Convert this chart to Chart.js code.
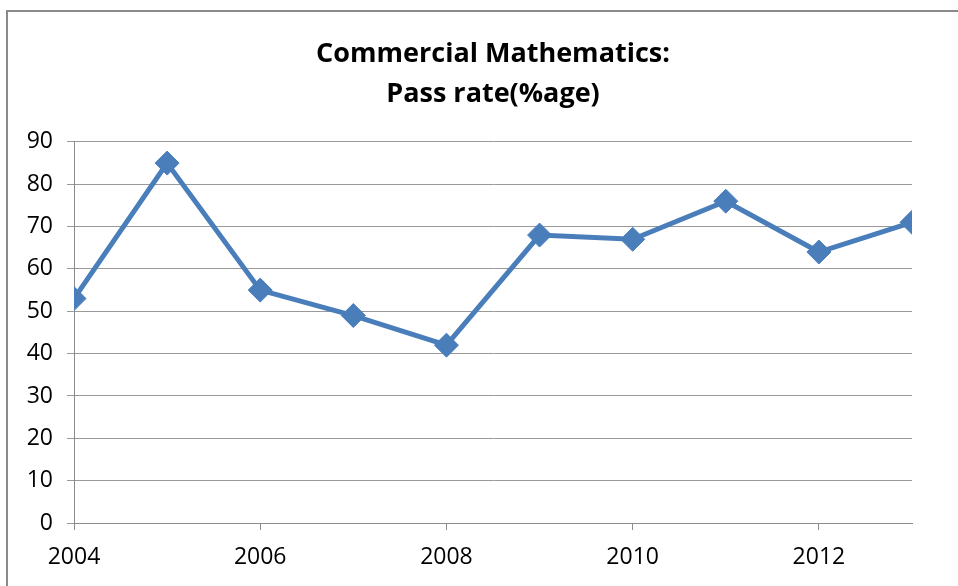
<!DOCTYPE html>
<html>
<head>
<meta charset="utf-8">
<script src="https://cdn.jsdelivr.net/npm/chart.js@4"></script>
<style>
  html, body { margin: 0; padding: 0; background: #fff; }
  #wrap { position: relative; width: 958px; height: 586px; overflow: hidden; }
  #frame { position: absolute; left: 6px; top: 10px; width: 1000px; height: 700px; border: 2px solid #8a8a8a; box-sizing: border-box; }
  canvas { position: absolute; left: 0; top: 0; }
</style>
</head>
<body>
<div id="wrap">
  <div id="frame"></div>
  <canvas id="chart" width="958" height="586"></canvas>
</div>
<script>
// Pass rate per year
const years = [2004, 2005, 2006, 2007, 2008, 2009, 2010, 2011, 2012, 2013];
const passRate = [53, 85, 55, 49, 42, 68, 67, 76, 64, 71];
const titleLines = ['Commercial Mathematics:', 'Pass rate(%age)'];

const FONT = '"Open Sans", Lato, sans-serif';
const blue = '#4a7ebb';

new Chart(document.getElementById('chart'), {
  type: 'line',
  data: {
    datasets: [{
      data: years.map((y, i) => ({ x: y, y: passRate[i] })),
      borderColor: blue,
      backgroundColor: blue,
      borderWidth: 5,
      pointStyle: 'rectRot',
      pointRadius: 12,
      pointBorderWidth: 1,
      pointBorderColor: blue,
      tension: 0
    }]
  },
  options: {
    responsive: false,
    animation: false,
    layout: { padding: { left: 0, right: 46, top: 0, bottom: 0 } },
    plugins: {
      legend: { display: false },
      tooltip: { enabled: false },
      title: {
        display: true,
        fullSize: false, // centre over the plot area
        text: titleLines,
        color: '#000',
        font: { family: FONT, size: 27, weight: 'bold', lineHeight: 1.48 },
        padding: { top: 34, bottom: 28 }
      }
    },
    scales: {
      x: {
        type: 'linear',
        min: 2004,
        max: 2013,
        ticks: {
          stepSize: 2,
          includeBounds: false,
          color: '#000',
          font: { family: FONT, size: 23 },
          padding: 14,
          maxRotation: 0,
          callback: v => String(v)
        },
        grid: { display: true, drawOnChartArea: false, drawTicks: true, tickLength: 7, color: '#8c8c8c' },
        border: { color: '#8c8c8c', width: 1 },
        afterFit: s => { s.height = 63; }
      },
      y: {
        min: 0,
        max: 90,
        ticks: {
          stepSize: 10,
          color: '#000',
          font: { family: FONT, size: 23 },
          padding: 14
        },
        grid: { color: '#999', lineWidth: 1, tickLength: 7 },
        border: { color: '#8c8c8c', width: 1 },
        afterFit: s => { s.width = 74; }
      }
    }
  }
});
</script>
</body>
</html>
